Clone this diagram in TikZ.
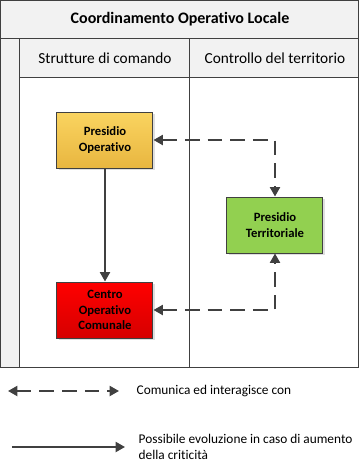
\documentclass[tikz,border=0pt]{standalone}
\usepackage{fontspec}
\setmainfont{Carlito}[RawFeature=-liga]
\usetikzlibrary{arrows.meta,shadows}
\definecolor{lineclr}{RGB}{64,64,64}
\definecolor{headbg}{RGB}{242,242,242}
\definecolor{opertop}{RGB}{250,212,96}
\definecolor{operbot}{RGB}{232,182,64}
\definecolor{territclr}{RGB}{146,208,80}
\definecolor{comtop}{RGB}{255,0,0}
\definecolor{combot}{RGB}{214,0,0}
\tikzset{
  unitbox/.style={draw=lineclr, line width=0.75pt, minimum width=72pt, minimum height=42pt,
    inner sep=0pt, align=center, font=\fontsize{9.5}{11.5}\selectfont\bfseries,
    drop shadow={shadow xshift=1.2pt, shadow yshift=-1.2pt, opacity=0.25}},
  interlink/.style={draw=lineclr, line width=1.5pt, dash pattern=on 11pt off 6pt,
    {Triangle[length=7pt,width=7.5pt]}-{Triangle[length=7pt,width=7.5pt]}},
  evolink/.style={draw=lineclr, line width=1.5pt, -{Triangle[length=7pt,width=7.5pt]}},
  laneline/.style={draw=lineclr, line width=0.75pt}
}
\begin{document}
\begin{tikzpicture}[x=0.75pt, y=-0.75pt]
  \useasboundingbox (0,0) rectangle (360,462);
  % cornice e intestazioni
  \fill[headbg] (0,0) rectangle (359,38);
  \fill[headbg] (0,38) rectangle (20,367);
  \fill[headbg] (20,38) rectangle (359,77);
  \draw[laneline] (0.5,0.5) rectangle (359,367);
  \draw[laneline] (0.5,38) -- (359,38);
  \draw[laneline] (20,77) -- (359,77);
  \draw[laneline] (20,38) -- (20,367);
  \draw[laneline] (190,38) -- (190,367);
  \node[font=\fontsize{12}{14}\selectfont\bfseries] (title) at (180,19) {Coordinamento Operativo Locale};
  \node[font=\fontsize{11.5}{13.5}\selectfont] (lanecmd) at (105,58) {Strutture di comando};
  \node[font=\fontsize{11.5}{13.5}\selectfont] (laneterr) at (275,58) {Controllo del territorio};
  % unita
  \node[unitbox, top color=opertop, bottom color=operbot] (po) at (105,140) {Presidio\\Operativo};
  \node[unitbox, fill=territclr] (pt) at (275,225) {Presidio\\Territoriale};
  \node[unitbox, top color=comtop, bottom color=combot] (coc) at (105,310) {Centro\\Operativo\\Comunale};
  % collegamenti
  \draw[evolink] (po.south) -- (coc.north);
  \draw[interlink] (po.east) -| (pt.north);
  \draw[interlink] (coc.east) -| (pt.south);
  % legenda
  \coordinate (dashL) at (8,391);
  \coordinate (dashR) at (119,391);
  \coordinate (solidL) at (12,447);
  \coordinate (solidR) at (125,447);
  \draw[interlink] (dashL) -- (dashR);
  \draw[evolink] (solidL) -- (solidR);
  \node[anchor=west, font=\fontsize{10}{12}\selectfont] (legdash) at (132,391) {Comunica ed interagisce con};
  \node[anchor=west, align=left, font=\fontsize{10}{11.5}\selectfont] (legsolid) at (134,447)
    {Possibile evoluzione in caso di aumento\\della criticità};
\end{tikzpicture}
\end{document}
